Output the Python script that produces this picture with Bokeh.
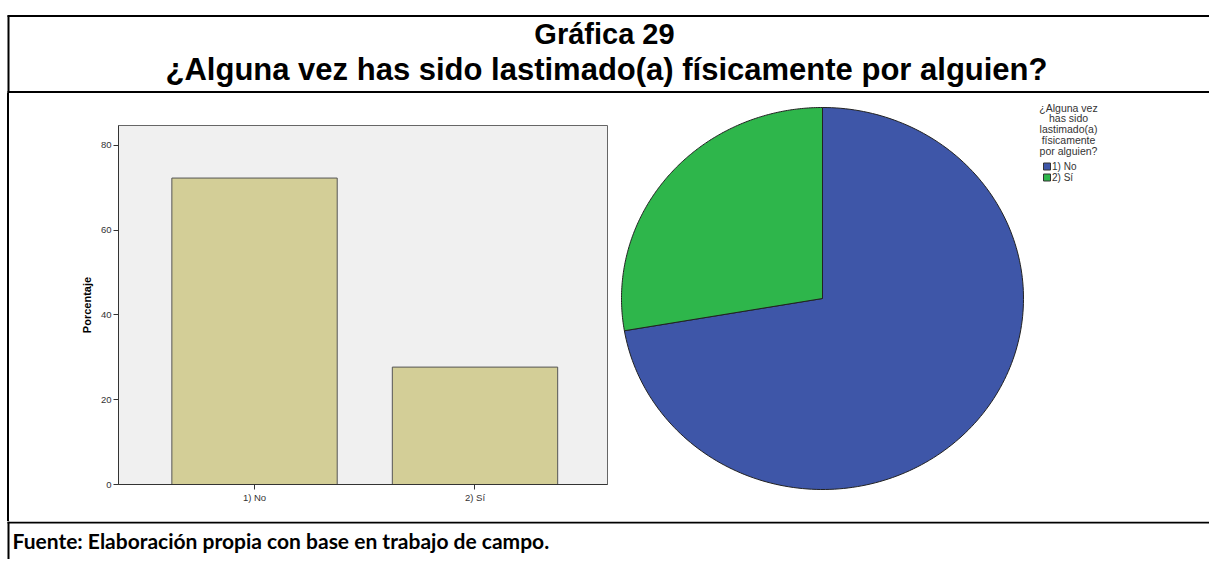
import numpy as np
from bokeh.plotting import figure
from bokeh.models import Range1d, FixedTicker, Div
from bokeh.layouts import column, row
from bokeh.embed import file_html
from bokeh.resources import INLINE
from bokeh.core.properties import value

# ---------------- data ----------------
title_lines = ["Gráfica 29", "¿Alguna vez has sido lastimado(a) físicamente por alguien?"]
categories = ["1) No", "2) Sí"]
percent = [72.3, 27.7]
y_ticks = [0, 20, 40, 60, 80]
y_label = "Porcentaje"
pie_colors = ["#3e56a8", "#2eb64b"]
bar_color = "#d3ce97"
legend_title = ["¿Alguna vez", "has sido", "lastimado(a)", "físicamente", "por alguien?"]
source_text = "Fuente: Elaboración propia con base en trabajo de campo."

W = 1209
SANS = "Liberation Sans"


def canvas(w, h):
    p = figure(width=w, height=h, x_range=Range1d(0, w), y_range=Range1d(h, 0),
               output_backend="svg", toolbar_location=None, min_border=0,
               x_axis_type=None, y_axis_type=None, frame_align=False)
    p.grid.visible = False
    p.outline_line_color = None
    p.background_fill_color = "white"
    p.border_fill_color = "white"
    return p


# ---------------- title ----------------
TH = 93
tp = canvas(W, TH)
tp.segment(x0=[7, 7, 8], y0=[15.5, 91.5, 15], x1=[W, W, 8], y1=[15.5, 91.5, TH],
           line_color="black", line_width=2)
tp.text(x=[604], y=[33], text=[title_lines[0]], text_align="center", text_baseline="middle",
        text_font=value(SANS), text_font_style="bold", text_font_size="29px", text_color="black")
tp.text(x=[606], y=[69], text=[title_lines[1]], text_align="center", text_baseline="middle",
        text_font=value(SANS), text_font_style="bold", text_font_size="31px", text_color="black")

# ---------------- bar chart ----------------
RH = 428
BW = 603
xs = list(range(1, len(categories) + 1))
bp = figure(width=BW, height=RH, x_range=Range1d(0.383, 2.601), y_range=Range1d(0, 84.7),
            output_backend="svg", toolbar_location=None, frame_align=False,
            min_border_left=109, min_border_right=5, min_border_top=32, min_border_bottom=37)
bp.vbar(x=xs, top=percent, width=0.75, bottom=0, fill_color=bar_color,
        line_color="#555555", line_width=1)
bp.grid.visible = False
bp.background_fill_color = "#f0f0f0"
bp.border_fill_color = "white"
bp.outline_line_color = "#666666"
bp.outline_line_width = 1

bp.xaxis.ticker = FixedTicker(ticks=xs)
bp.xaxis.major_label_overrides = {x: c for x, c in zip(xs, categories)}
bp.yaxis.ticker = FixedTicker(ticks=y_ticks)
bp.yaxis.axis_label = y_label
for ax in (bp.xaxis[0], bp.yaxis[0]):
    ax.axis_line_color = "#333333"
    ax.axis_line_width = 1
    ax.major_tick_line_color = "#333333"
    ax.major_tick_out = 5
    ax.major_tick_in = 0
    ax.minor_tick_line_color = None
    ax.major_label_text_font = SANS
    ax.major_label_text_font_size = "9.5px"
    ax.major_label_text_color = "#333333"
    ax.major_label_standoff = 2
bp.yaxis.axis_label_text_font = SANS
bp.yaxis.axis_label_text_font_style = "bold"
bp.yaxis.axis_label_text_font_size = "11px"
bp.yaxis.axis_label_text_color = "black"
bp.yaxis.axis_label_standoff = 5

# ---------------- pie chart ----------------
PW = W - 9 - BW
pp = canvas(PW, RH)
cx, cy, rx, ry = 210, 205, 201, 191
vals = np.array(percent, dtype=float)
fr = np.concatenate([[0], np.cumsum(vals) / vals.sum()]) * 2 * np.pi
pxs, pys = [], []
for a0, a1 in zip(fr[:-1], fr[1:]):
    th = np.linspace(a0, a1, 200)
    pxs.append(np.concatenate([[cx], cx + rx * np.sin(th), [cx]]))
    pys.append(np.concatenate([[cy], cy - ry * np.cos(th), [cy]]))
pp.patches(xs=pxs, ys=pys, fill_color=pie_colors, line_color="#222222", line_width=1)

# legend
ly = [14 + 10.75 * i for i in range(len(legend_title))]
pp.text(x=[456] * len(legend_title), y=ly, text=legend_title, text_align="center",
        text_baseline="middle", text_font=value(SANS), text_font_size="10.5px", text_color="#333333")
iy = [73 + 11 * i for i in range(len(categories))]
pp.rect(x=[434.5] * len(categories), y=iy, width=7, height=7, fill_color=pie_colors,
        line_color="#333333", line_width=1)
pp.text(x=[439.5] * len(categories), y=iy, text=categories, text_align="left",
        text_baseline="middle", text_font=value(SANS), text_font_size="10px", text_color="#333333")

# ---------------- left border for the middle row ----------------
lpad = Div(width=7, height=RH, margin=0, styles={"background-color": "white"})
lb = Div(width=2, height=RH, margin=0, styles={"background-color": "black"})

# ---------------- footer ----------------
FH = 38
fp = canvas(W, FH)
fp.segment(x0=[7, 8], y0=[1, 0], x1=[W, 8], y1=[1, FH], line_color="black", line_width=2)
fp.text(x=[12], y=[19], text=[source_text], text_align="left", text_baseline="middle",
        text_font=value("Lato"), text_font_style="bold", text_font_size="21px", text_color="black")

layout = column(tp, row(lpad, lb, bp, pp, spacing=0), fp, spacing=0)
open("out.html", "w").write(file_html(layout, INLINE))
